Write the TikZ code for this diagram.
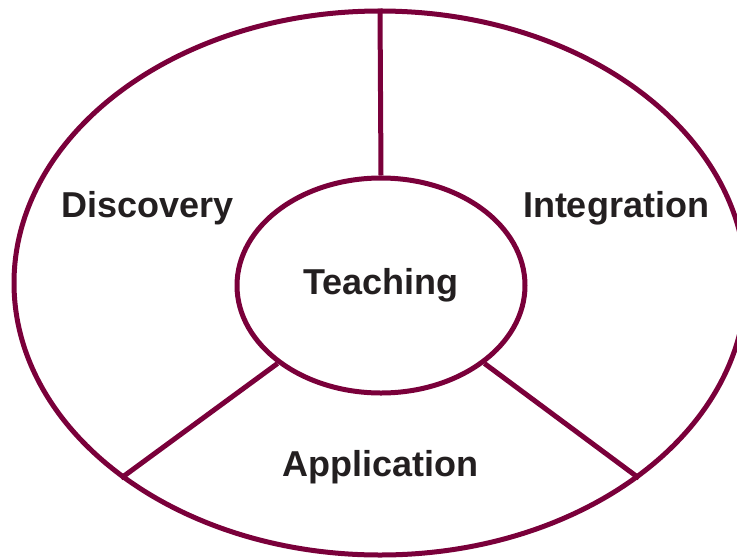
\documentclass[tikz,border=0pt]{standalone}
\usepackage{fontspec}
\setmainfont{Liberation Sans}
\usetikzlibrary{shapes.geometric}
\definecolor{ringred}{RGB}{122,0,58}
\definecolor{labelink}{RGB}{35,31,32}

\begin{document}
\begin{tikzpicture}
[x=1pt,y=-1pt, ring/.style={draw=ringred,line width=5pt,ellipse,inner sep=0pt}, spoke/.style={draw=ringred,line width=5pt}, word/.style={anchor=base,text=labelink,font=\fontsize{36}{40}\selectfont\bfseries,inner sep=0pt}]

% the frame
\useasboundingbox (0,0) rectangle (737,558);
\clip (0,0) rectangle (737,558);

% the two ellipses
\node[ring,minimum width=732pt,minimum height=544pt] (outer) at (380,283) {};
\node[ring,minimum width=288pt,minimum height=215pt,text=labelink,font=\fontsize{36}{40}\selectfont\bfseries] (inner) at (381,285.5) {Teaching};

% the spokes
\draw[spoke] (inner.north) -- (outer.north);
\draw[spoke] (inner.217) -- (outer.217);
\draw[spoke] (inner.-37) -- (outer.-37);

% labelling the parts
\node[word] (discovery) at (147.5,217) {Discovery};
\node[word] (integration) at (616,217) {Integration};
\node[word] (application) at (380.5,476) {Application};

\end{tikzpicture}
\end{document}
